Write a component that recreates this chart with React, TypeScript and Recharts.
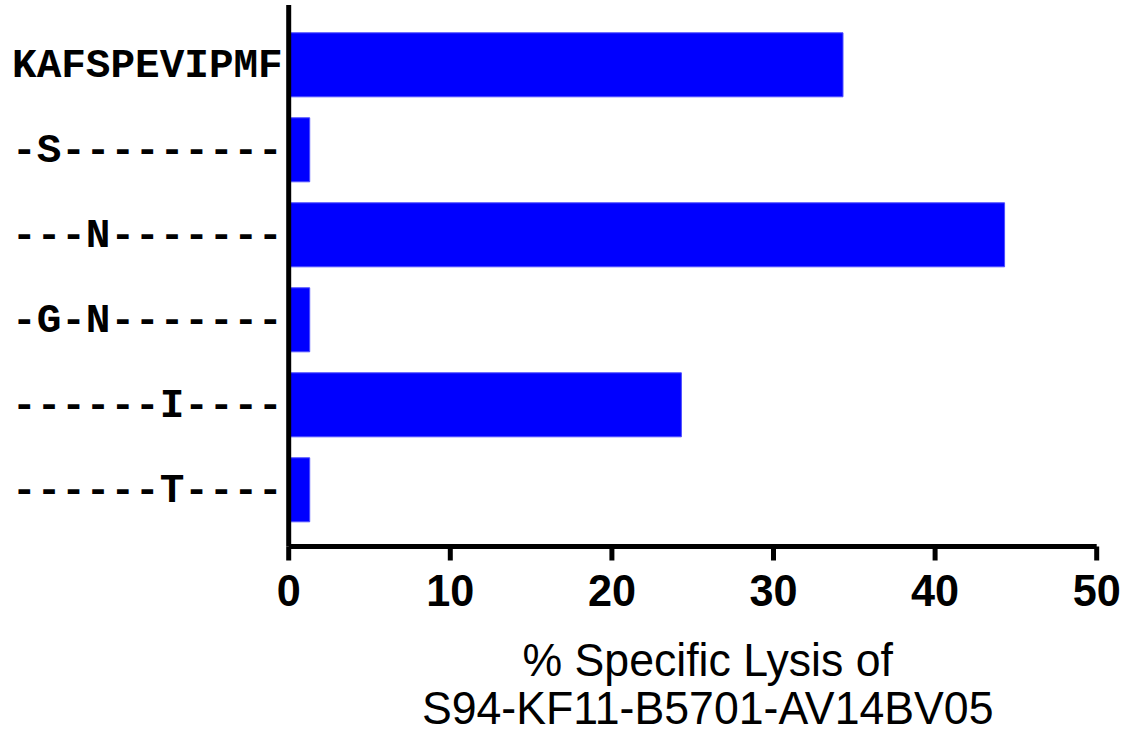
import React from "react";
import { BarChart, Bar, XAxis, YAxis } from "recharts";

const categories = ["KAFSPEVIPMF", "-S---------", "---N-------", "-G-N-------", "------I----", "------T----"];
const lysisValues = [34.3, 1.3, 44.3, 1.3, 24.3, 1.3];
const xTicks = [0, 10, 20, 30, 40, 50];
const xLabelLines = ["% Specific Lysis of", "S94-KF11-B5701-AV14BV05"];

const data = categories.map((c, i) => ({ peptide: c, lysis: lysisValues[i] }));

const YTick = (props: any) => {
  const { x, y, payload } = props;
  return (
    <g transform={`translate(${x},${y})`}>
      <text
        x={0}
        y={0}
        dy={12}
        textAnchor="end"
        fontFamily="'Courier New', 'Liberation Mono', monospace"
        fontWeight="bold"
        fontSize={41}
        fill="#000"
      >
        {payload.value}
      </text>
    </g>
  );
};

const XTick = (props: any) => {
  const { x, y, payload } = props;
  return (
    <g transform={`translate(${x},${y + 43.5}) scale(0.96,1)`}>
      <text
        x={0}
        y={0}
        textAnchor="middle"
        fontFamily="Arial, 'Liberation Sans', sans-serif"
        fontWeight="bold"
        fontSize={45}
        fill="#000"
      >
        {payload.value}
      </text>
    </g>
  );
};

const XLabel = (props: any) => {
  const vb = props.viewBox || {};
  const cx = vb.x + vb.width / 2 + 15;
  const y0 = vb.y;
  return (
    <g>
      <g transform={`translate(${cx},${y0 + 129.5}) scale(0.95,1)`}>
        <text x={0} y={0} textAnchor="middle" fontFamily="Arial, 'Liberation Sans', sans-serif" fontSize={47} fill="#000">
          {xLabelLines[0]}
        </text>
      </g>
      <g transform={`translate(${cx},${y0 + 177.5}) scale(0.95,1)`}>
        <text x={0} y={0} textAnchor="middle" fontFamily="Arial, 'Liberation Sans', sans-serif" fontSize={47} fill="#000">
          {xLabelLines[1]}
        </text>
      </g>
    </g>
  );
};

export default function App() {
  return (
    <div style={{ position: "absolute", left: 0, top: 0, width: 1125, height: 734, background: "#fff" }}>
      <BarChart
        width={1125}
        height={734}
        data={data}
        layout="vertical"
        margin={{ top: 5, right: 28.3, bottom: 0, left: 0 }}
      >
        <XAxis
          type="number"
          domain={[0, 50]}
          ticks={xTicks}
          interval={0}
          height={187.5}
          axisLine={{ stroke: "#000", strokeWidth: 5 }}
          tickLine={{ stroke: "#000", strokeWidth: 5 }}
          tickSize={14}
          tickMargin={2}
          tick={<XTick />}
          label={<XLabel />}
        />
        <YAxis
          type="category"
          dataKey="peptide"
          width={288.7}
          interval={0}
          padding={{ top: 17.8, bottom: 13.7 }}
          axisLine={{ stroke: "#000", strokeWidth: 5 }}
          tickLine={false}
          tickSize={0}
          tickMargin={6}
          tick={<YTick />}
        />
        <Bar dataKey="lysis" fill="#0000FF" stroke="#4d4dff" strokeWidth={1} barSize={64} isAnimationActive={false} />
      </BarChart>
    </div>
  );
}
